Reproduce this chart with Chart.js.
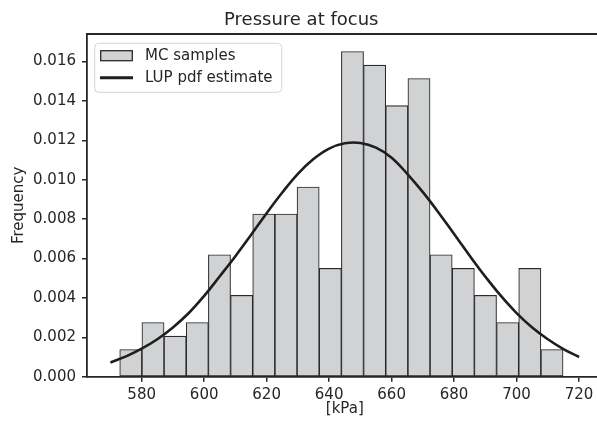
<!DOCTYPE html>
<html>
<head>
<meta charset="utf-8">
<script src="https://cdn.jsdelivr.net/npm/chart.js@4.4.0/dist/chart.umd.min.js"></script>
<style>
html, body { margin: 0; padding: 0; overflow: hidden; background: #fff; }
#wrap { width: 606px; height: 422px; }
</style>
</head>
<body>
<div id="wrap"><canvas id="histChart" width="606" height="422"></canvas></div>
<script>
// histogram bins (centres in kPa) and densities
const binCenters = [576.52, 583.62, 590.71, 597.81, 604.90, 612.00, 619.09, 626.19, 633.28, 640.38,
                    647.47, 654.57, 661.66, 668.76, 675.85, 682.95, 690.04, 697.14, 704.23, 711.33];
const binValues = [0.00138, 0.00275, 0.00206, 0.00275, 0.00619, 0.00413, 0.00826, 0.00826, 0.00963, 0.00550,
                   0.01651, 0.01582, 0.01376, 0.01514, 0.00619, 0.00550, 0.00413, 0.00275, 0.00550, 0.00138];

// LUP pdf estimate, points every 5 kPa
const curveX = [570, 575, 580, 585, 590, 595, 600, 605, 610, 615, 620, 625, 630, 635, 640, 645,
                650, 655, 660, 665, 670, 675, 680, 685, 690, 695, 700, 705, 710, 715, 720];
const curveY = [0.00072, 0.00103, 0.00142, 0.00190, 0.00250, 0.00322, 0.00410, 0.00510, 0.00612, 0.00720,
                0.00830, 0.00935, 0.01030, 0.01105, 0.01158, 0.01185, 0.01187, 0.01163, 0.01112, 0.01030,
                0.00937, 0.00834, 0.00724, 0.00614, 0.00508, 0.00410, 0.00323, 0.00250, 0.00190, 0.00140, 0.00100];

const xTicks = [580, 600, 620, 640, 660, 680, 700, 720];
const yTicks = [0, 0.002, 0.004, 0.006, 0.008, 0.010, 0.012, 0.014, 0.016];

const textColor = '#262626';
const barFill = '#d1d2d4';
const barEdge = '#2a2a2a';
const lineColor = '#1e1e1e';
const fontName = "'DejaVu Sans', sans-serif";

// legend inside the axes + top spine, like matplotlib
const insideLegend = {
    id: 'insideLegend',
    afterDatasetsDraw(chart) {
        const ctx = chart.ctx;
        const a = chart.chartArea;
        const x0 = a.left + 7.7, y0 = a.top + 9.3;
        ctx.save();
        ctx.beginPath();
        ctx.roundRect(x0, y0, 187, 49, 4);
        ctx.fillStyle = 'rgba(255,255,255,0.8)';
        ctx.fill();
        ctx.strokeStyle = '#d4d4d4';
        ctx.lineWidth = 1;
        ctx.stroke();

        ctx.fillStyle = barFill;
        ctx.fillRect(x0 + 6, y0 + 7.4, 31.6, 10);
        ctx.strokeStyle = barEdge;
        ctx.lineWidth = 1.3;
        ctx.strokeRect(x0 + 6, y0 + 7.4, 31.6, 10);

        ctx.beginPath();
        ctx.moveTo(x0 + 5.3, y0 + 34.4);
        ctx.lineTo(x0 + 38.3, y0 + 34.4);
        ctx.strokeStyle = lineColor;
        ctx.lineWidth = 3;
        ctx.stroke();

        ctx.fillStyle = textColor;
        ctx.font = '15px ' + fontName;
        ctx.textBaseline = 'middle';
        ctx.fillText('MC samples', x0 + 50.3, y0 + 12.4);
        ctx.fillText('LUP pdf estimate', x0 + 50.3, y0 + 34.4);
        ctx.restore();
    },
    afterDraw(chart) {
        const ctx = chart.ctx;
        const a = chart.chartArea;
        ctx.save();
        ctx.beginPath();
        ctx.moveTo(a.left - 1, a.top);
        ctx.lineTo(a.right, a.top);
        ctx.strokeStyle = textColor;
        ctx.lineWidth = 1.8;
        ctx.stroke();
        ctx.restore();
    }
};

const ctxHist = document.getElementById('histChart');
window.histChartObject = new Chart(ctxHist, {
    type: 'bar',
    data: {
        datasets: [{
            type: 'line',
            label: 'LUP pdf estimate',
            data: curveX.map((x, i) => ({ x: x, y: curveY[i] })),
            borderColor: lineColor,
            borderWidth: 2.6,
            pointRadius: 0,
            tension: 0.4,
            fill: false,
            order: 0
        }, {
            label: 'MC samples',
            data: binCenters.map((x, i) => ({ x: x, y: binValues[i] })),
            backgroundColor: barFill,
            borderColor: barEdge,
            borderWidth: 1.1,
            borderSkipped: false,
            barPercentage: 1,
            categoryPercentage: 1,
            order: 1
        }]
    },
    options: {
        responsive: false,
        animation: false,
        layout: { padding: { left: 0, right: 3.5, top: 0, bottom: 0 } },
        plugins: {
            legend: { display: false },
            tooltip: { enabled: false },
            title: {
                display: true,
                text: 'Pressure at focus',
                color: textColor,
                font: { family: fontName, size: 18, weight: 'normal' },
                padding: { top: 9.5, bottom: 2.9 }
            }
        },
        scales: {
            x: {
                type: 'linear',
                min: 562.5,
                max: 727.5,
                offset: false,
                afterBuildTicks: (scale) => { scale.ticks = xTicks.map(v => ({ value: v })); },
                afterFit: (scale) => { scale.height = 45.3; },
                ticks: {
                    color: textColor,
                    font: { family: fontName, size: 15 },
                    padding: 4,
                    maxRotation: 0,
                    callback: (v) => String(v)
                },
                grid: {
                    offset: false,
                    drawOnChartArea: false,
                    drawTicks: true,
                    tickLength: 5,
                    color: textColor,
                    lineWidth: 1.5
                },
                border: { display: true, color: textColor, width: 1.8 },
                title: {
                    display: true,
                    text: '[kPa]',
                    color: textColor,
                    font: { family: fontName, size: 15 },
                    padding: { top: 0, bottom: 4 }
                }
            },
            y: {
                min: 0,
                max: 0.0174,
                afterBuildTicks: (scale) => { scale.ticks = yTicks.map(v => ({ value: v })); },
                afterFit: (scale) => { scale.width = 87; },
                ticks: {
                    color: textColor,
                    font: { family: fontName, size: 15 },
                    padding: 6,
                    callback: (v) => v.toFixed(3)
                },
                grid: {
                    drawOnChartArea: false,
                    drawTicks: true,
                    tickLength: 5,
                    color: textColor,
                    lineWidth: 1.5
                },
                border: { display: true, color: textColor, width: 1.8 },
                title: {
                    display: true,
                    text: 'Frequency',
                    color: textColor,
                    font: { family: fontName, size: 15 },
                    padding: { top: 10, bottom: 0 }
                }
            }
        }
    },
    plugins: [insideLegend]
});
</script>
</body>
</html>
